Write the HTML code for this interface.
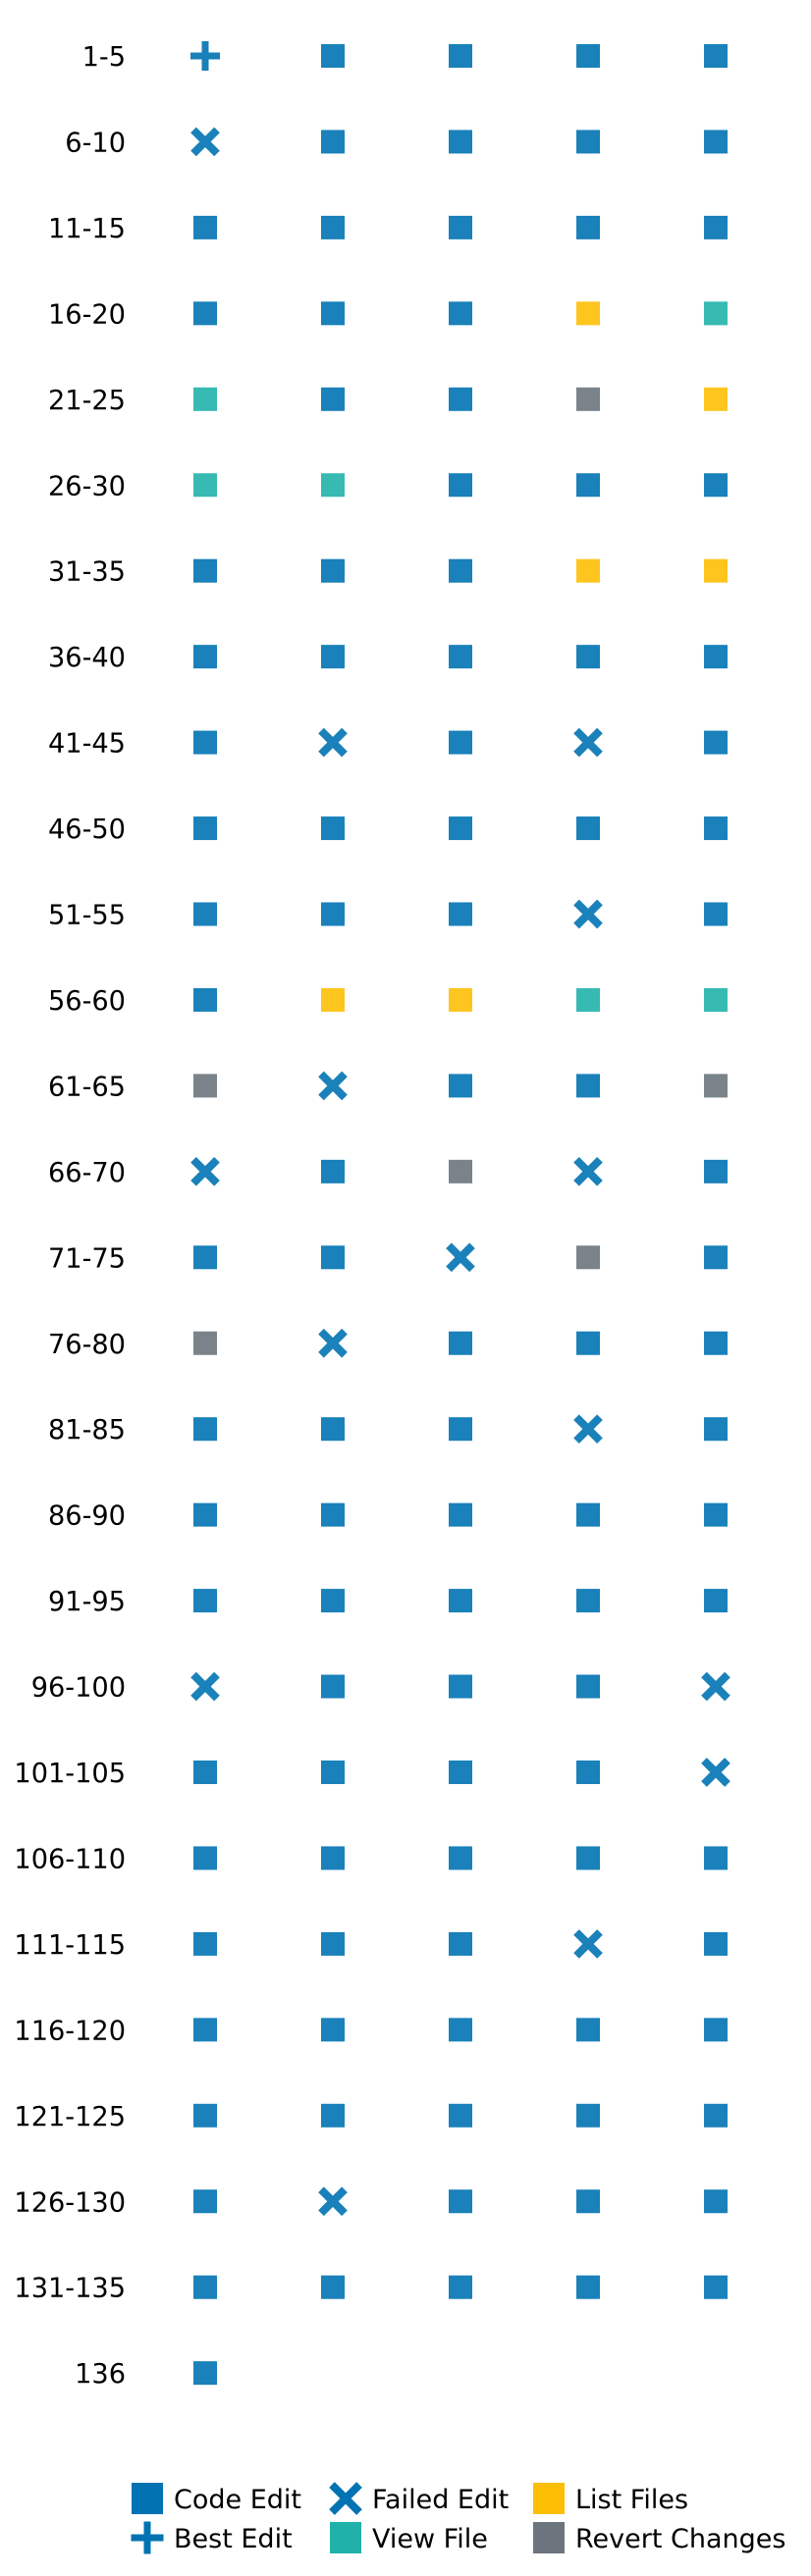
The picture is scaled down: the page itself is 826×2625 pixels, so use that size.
<!DOCTYPE html>
<html><head><meta charset="utf-8"><style>
html,body{margin:0;padding:0;background:#fff;}
svg{display:block;font-family:"DejaVu Sans","Liberation Sans",sans-serif;}
</style></head><body>
<svg id="chart" width="826" height="2625" viewBox="0 0 826 2625"></svg>
<script>
const rowLabels = ["1-5","6-10","11-15","16-20","21-25","26-30","31-35","36-40","41-45","46-50","51-55","56-60","61-65","66-70","71-75","76-80","81-85","86-90","91-95","96-100","101-105","106-110","111-115","116-120","121-125","126-130","131-135","136"];
const actions = [
"BCCCC","FCCCC","CCCCC","CCCLV","VCCRL","VVCCC","CCCLL","CCCCC","CFCFC","CCCCC",
"CCCFC","CLLVV","RFCCR","FCRFC","CCFRC","RFCCC","CCCFC","CCCCC","CCCCC","FCCCF",
"CCCCF","CCCCC","CCCFC","CCCCC","CCCCC","CFCCC","CCCCC","C"];
const legendItems = [["C","Code Edit"],["B","Best Edit"],["F","Failed Edit"],["V","View File"],["L","List Files"],["R","Revert Changes"]];
const colors = {C:"#0173b2",B:"#0173b2",F:"#0173b2",V:"#20b2aa",L:"#fdbf05",R:"#6c757d"};
const NS="http://www.w3.org/2000/svg";
const svg=document.getElementById('chart');
const xOf=c=>209+c*130;
const yOf=r=>57+r*87.45;
function mk(tag,attrs,parent){const e=document.createElementNS(NS,tag);for(const k in attrs)e.setAttribute(k,attrs[k]);(parent||svg).appendChild(e);return e;}
function marker(type,cx,cy,s,op,parent){
  const g=mk('g',{opacity:op},parent);
  const col=colors[type];
  if(type==='B'){
    mk('rect',{x:cx-3.5,y:cy-s/2,width:7,height:s,fill:col},g);
    mk('rect',{x:cx-s/2,y:cy-3.5,width:s,height:7,fill:col},g);
  } else if(type==='F'){
    const h=s/2-4;
    mk('path',{d:`M${cx-h},${cy-h}L${cx+h},${cy+h}M${cx+h},${cy-h}L${cx-h},${cy+h}`,stroke:col,'stroke-width':8,fill:'none'},g);
  } else {
    mk('rect',{x:cx-s/2,y:cy-s/2,width:s,height:s,fill:col},g);
  }
  return g;
}
rowLabels.forEach((lab,r)=>{
  const t=mk('text',{x:128,y:yOf(r)+10,'text-anchor':'end','font-size':27.2,fill:'#000'});
  t.textContent=lab;
  
  
  actions[r].split('').forEach((a,c)=>{
    const m=marker(a,xOf(c),yOf(r),a==='B'?30:(a==='F'?32:24),0.9);
    
    
  });
});
const lg=mk('g',{});


legendItems.forEach((it,i)=>{
  const col=Math.floor(i/2), row=i%2;
  const mx=[150,352,559][col], ty=[2546,2586][row];
  const g=mk('g',{},lg);
  
  
  marker(it[0],mx,ty,it[0]==='B'?33:(it[0]==='F'?36:32),1,g);
  const t=mk('text',{x:mx+27,y:ty+10,'font-size':27,fill:'#000'},g);
  t.textContent=it[1];
});
</script>
</body></html>
